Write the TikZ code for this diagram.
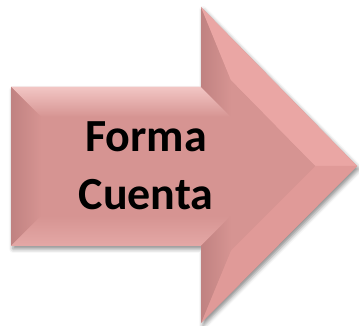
\documentclass[tikz,border=0pt]{standalone}
\usepackage{fontspec}
\setmainfont{Carlito}
\usetikzlibrary{shadows.blur}
\definecolor{mainc}{RGB}{214,148,146}
\definecolor{toplight}{RGB}{242,198,196}
\definecolor{leftdark}{RGB}{192,130,129}
\definecolor{diagup}{RGB}{234,166,164}
\definecolor{diaglow}{RGB}{224,154,152}
\definecolor{botlight}{RGB}{228,168,166}
\tikzset{
  arrowbody/.style={fill=mainc, blur shadow={shadow xshift=2pt, shadow yshift=-3pt, shadow blur radius=4pt, shadow opacity=45}},
  lbl/.style={font=\bfseries\fontsize{46}{58}\selectfont, anchor=base, inner sep=0pt, text=black}
}
\begin{document}
\begin{tikzpicture}[x=1pt,y=1pt]
\useasboundingbox (0,0) rectangle (359,326);
% outer vertices
\coordinate (A) at (11,239);
\coordinate (B) at (201,239);
\coordinate (C) at (201,319);
\coordinate (D) at (357,160);
\coordinate (E) at (201,3);
\coordinate (F) at (201,80);
\coordinate (G) at (11,80);
% inner (bevel) vertices
\coordinate (Ai) at (41,209);
\coordinate (Bi) at (231,209);
\coordinate (Ci) at (231,245.6);
\coordinate (Di) at (315,160);
\coordinate (Ei) at (231,75.8);
\coordinate (Fi) at (231,110);
\coordinate (Gi) at (41,110);
% body with shadow
\path[arrowbody] (A)--(B)--(C)--(D)--(E)--(F)--(G)--cycle;
% bevel faces
\shade[top color=toplight, bottom color=mainc] (A)--(B)--(Bi)--(Ai)--cycle;
\shade[left color=leftdark, right color=mainc] (A)--(Ai)--(Gi)--(G)--cycle;
\shade[bottom color=botlight, top color=mainc] (G)--(Gi)--(Fi)--(F)--cycle;
\shade[left color=leftdark, right color=mainc] (B)--(C)--(Ci)--(Bi)--cycle;
\fill[diagup] (C)--(D)--(Di)--(Ci)--cycle;
\fill[diaglow] (D)--(E)--(Ei)--(Di)--cycle;
\shade[left color=leftdark, right color=mainc] (E)--(F)--(Fi)--(Ei)--cycle;
% centre face
\fill[mainc] (Ai)--(Bi)--(Ci)--(Di)--(Ei)--(Fi)--(Gi)--cycle;
% text
\node[lbl] (t1) at (146,174) {Forma};
\node[lbl] (t2) at (146,116) {Cuenta};
\end{tikzpicture}
\end{document}
